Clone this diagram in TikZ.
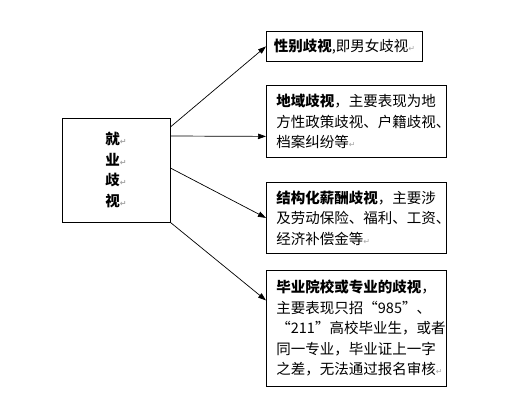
\documentclass[tikz,border=0pt]{standalone}
\usepackage{fontspec}
\setmainfont{Noto Sans CJK SC}
\newfontfamily\symfont{DejaVu Sans}
\usetikzlibrary{arrows.meta}
\newcommand\pmark{{\symfont\color{black!35}\fontsize{8}{8}\selectfont ↵}}
\tikzset{
	box/.style={draw, line width=0.8pt, anchor=north west, align=left, inner xsep=10pt, inner ysep=0pt,
		font=\fontsize{14.5}{20.5}\selectfont},
	arr/.style={-{Triangle[length=8pt,width=5.5pt]}, line width=0.7pt}
}
\begin{document}
\begin{tikzpicture}[x=1pt,y=-1pt]
		\useasboundingbox[fill=white] (0,0) rectangle (516,416);
		
		% left box
		\node[draw, line width=0.8pt, minimum width=108pt, minimum height=104pt, align=center,
			font=\fontsize{14.5}{20.5}\selectfont\bfseries] (jiuye) at (116,170)
			{就\pmark\\业\pmark\\歧\pmark\\视\pmark};
		
		% right boxes
		\node[box, inner xsep=6pt, minimum width=156pt, minimum height=30pt] (xingbie) at (266,31)
			{\textbf{性别歧视},即男女歧视\pmark};
		\node[box, text width=160pt, minimum height=72pt] (diyu) at (266,85)
			{\textbf{地域歧视}，主要表现为地\\方性政策歧视、户籍歧视、\\档案纠纷等\pmark};
		\node[box, text width=160pt, minimum height=71pt] (xinchou) at (266,182)
			{\textbf{结构化薪酬歧视}，主要涉\\及劳动保险、福利、工资、\\经济补偿金等\pmark};
		\node[box, text width=160pt, minimum height=116pt] (yuanxiao) at (266,270)
			{\textbf{毕业院校或专业的歧视}，\\\makebox[160pt][s]{主要表现只招“985”、}\\“211”高校毕业生，或者\\同一专业，毕业证上一字\\之差，无法通过报名审核\pmark};
		
		% arrows
		\draw[arr] ([yshift=43pt]jiuye.east) -- (xingbie.west);
		\draw[arr] ([yshift=34pt]jiuye.east) -- ([yshift=-15pt]diyu.west);
		\draw[arr] ([yshift=2pt]jiuye.east) -- (xinchou.west);
		\draw[arr] (jiuye.south east) -- ([yshift=28pt]yuanxiao.west);
\end{tikzpicture}
\end{document}
